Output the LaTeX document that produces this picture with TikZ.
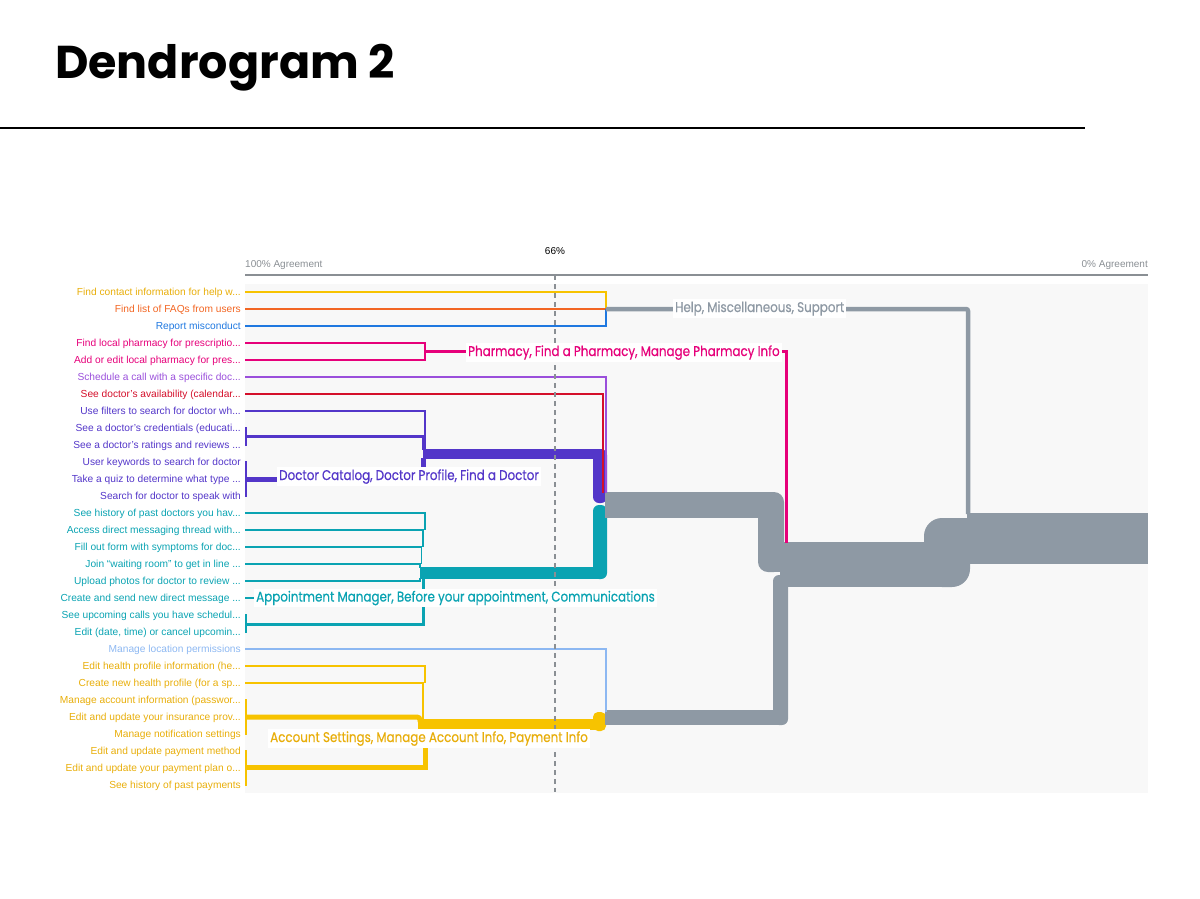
\documentclass[tikz,border=0pt]{standalone}
\usepackage{fontspec}
\setmainfont{Liberation Sans}
\newfontfamily\clusterfont[FakeStretch=0.85,FakeBold=0.5]{Poppins}
\newfontfamily\titlefont[FakeStretch=1.0]{Poppins}
\definecolor{bgc}{HTML}{F8F8F8}
\definecolor{axc}{HTML}{8A8F94}
\definecolor{gr}{HTML}{8E99A4}
\definecolor{yel}{HTML}{F7C300}
\definecolor{yeltx}{HTML}{E8AE0A}
\definecolor{ora}{HTML}{F26522}
\definecolor{blu}{HTML}{1F78E0}
\definecolor{pnk}{HTML}{E6007A}
\definecolor{pur}{HTML}{9A4FDB}
\definecolor{red}{HTML}{D40F2A}
\definecolor{ind}{HTML}{5336C9}
\definecolor{tea}{HTML}{0AA3B2}
\definecolor{lbl}{HTML}{8DB8F2}
\begin{document}
\begin{tikzpicture}[x=1pt,y=-1pt,
  lab/.style={anchor=base east, inner sep=0pt, font=\fontsize{10.2}{12}\selectfont},
  leaf/.style={line width=1.5pt},
  pair/.style={line width=3pt},
  trip/.style={line width=5pt},
  bar/.style={line width=2pt},
  clab/.style={anchor=base west, fill=white, inner xsep=2pt, inner ysep=2pt, font=\clusterfont\fontsize{14}{14}\selectfont}]
\useasboundingbox (0,0) rectangle (1200,898);
% title
\node[anchor=base west, inner sep=0pt, font=\titlefont\bfseries\fontsize{46}{46}\selectfont] (title) at (55,78) {Dendrogram 2};
\coordinate (ruleA) at (0,128);
\coordinate (ruleB) at (1085,128);
\draw[line width=2.5pt] (ruleA) -- (ruleB);
% background and axis
\fill[bgc] (245,284) rectangle (1148,793);
\coordinate (axA) at (245,275);
\coordinate (axB) at (1148,275);
\draw[axc, line width=1.5pt] (axA) -- (axB);
\node[anchor=base west, inner sep=0pt, text=axc, font=\fontsize{10}{12}\selectfont] (ax100) at (245,267) {100\% Agreement};
\node[anchor=base east, inner sep=0pt, text=axc, font=\fontsize{10}{12}\selectfont] (ax0) at (1148,267) {0\% Agreement};
\node[anchor=base, inner sep=0pt, font=\fontsize{10}{12}\selectfont] (p66) at (555,254) {66\%};
% leaf labels
\node[lab, text=yeltx] (l1) at (241,295.6) {Find contact information for help w...};
\node[lab, text=ora] (l2) at (241,312.6) {Find list of FAQs from users};
\node[lab, text=blu] (l3) at (241,329.6) {Report misconduct};
\node[lab, text=pnk] (l4) at (241,346.6) {Find local pharmacy for prescriptio...};
\node[lab, text=pnk] (l5) at (241,363.6) {Add or edit local pharmacy for pres...};
\node[lab, text=pur] (l6) at (241,380.6) {Schedule a call with a specific doc...};
\node[lab, text=red] (l7) at (241,397.6) {See doctor's availability (calendar...};
\node[lab, text=ind] (l8) at (241,414.6) {Use filters to search for doctor wh...};
\node[lab, text=ind] (l9) at (241,431.6) {See a doctor's credentials (educati...};
\node[lab, text=ind] (l10) at (241,448.6) {See a doctor's ratings and reviews ...};
\node[lab, text=ind] (l11) at (241,465.6) {User keywords to search for doctor};
\node[lab, text=ind] (l12) at (241,482.6) {Take a quiz to determine what type ...};
\node[lab, text=ind] (l13) at (241,499.6) {Search for doctor to speak with};
\node[lab, text=tea] (l14) at (241,516.6) {See history of past doctors you hav...};
\node[lab, text=tea] (l15) at (241,533.6) {Access direct messaging thread with...};
\node[lab, text=tea] (l16) at (241,550.6) {Fill out form with symptoms for doc...};
\node[lab, text=tea] (l17) at (241,567.6) {Join “waiting room” to get in line ...};
\node[lab, text=tea] (l18) at (241,584.6) {Upload photos for doctor to review ...};
\node[lab, text=tea] (l19) at (241,601.6) {Create and send new direct message ...};
\node[lab, text=tea] (l20) at (241,618.6) {See upcoming calls you have schedul...};
\node[lab, text=tea] (l21) at (241,635.6) {Edit (date, time) or cancel upcomin...};
\node[lab, text=lbl] (l22) at (241,652.6) {Manage location permissions};
\node[lab, text=yeltx] (l23) at (241,669.6) {Edit health profile information (he...};
\node[lab, text=yeltx] (l24) at (241,686.6) {Create new health profile (for a sp...};
\node[lab, text=yeltx] (l25) at (241,703.6) {Manage account information (passwor...};
\node[lab, text=yeltx] (l26) at (241,720.6) {Edit and update your insurance prov...};
\node[lab, text=yeltx] (l27) at (241,737.6) {Manage notification settings};
\node[lab, text=yeltx] (l28) at (241,754.6) {Edit and update payment method};
\node[lab, text=yeltx] (l29) at (241,771.6) {Edit and update your payment plan o...};
\node[lab, text=yeltx] (l30) at (241,788.6) {See history of past payments};
% thick colored cluster bars
\fill[ind] (423,449) rectangle (600,459);
\fill[ind, rounded corners=6] (593,449) rectangle (607,503);
\fill[tea] (420,567) rectangle (600,579);
\fill[tea, rounded corners=6] (593,505) rectangle (607,579);
\fill[yel] (418,719) rectangle (600,730);
\fill[yel, rounded corners=5] (593,712) rectangle (606,731);
% gray merged bars
\fill[gr] (605,492) rectangle (772,518);
\fill[gr, rounded corners=10] (758,492) rectangle (784,572);
\fill[gr] (770,530) rectangle (784,572);
\fill[gr] (780,542) rectangle (950,587);
\fill[gr, rounded corners=18] (924,518) rectangle (970,587);
\fill[gr] (945,518) rectangle (970,560);
\fill[gr] (967,513) rectangle (1148,564);
\fill[gr, rounded corners=6] (773,575) rectangle (788,725);
\fill[gr] (605,710) rectangle (780,725);
% help group
\coordinate (j1) at (606,309);
\draw[leaf, yel] (245,292) -- (606,292) -- (j1);
\draw[leaf, ora] (245,309) -- (j1);
\draw[leaf, blu] (245,326) -- (606,326) -- (j1);
\draw[gr, line width=4.5pt, rounded corners=2] (j1) -- (968,309) -- (968,514);
% pharmacy
\coordinate (j2) at (425,351);
\draw[leaf, pnk] (245,343) -- (425,343) -- (j2);
\draw[leaf, pnk] (245,360) -- (425,360) -- (j2);
\draw[pnk, line width=3pt] (j2) -- (786,351) -- (786,543);
% doctor
\draw[leaf, ind] (245,411) -- (425,411) -- (425,450);
\draw[bar, ind] (246,427) -- (246,446);
\draw[pair, ind] (246,436.5) -- (423,436.5) -- (423,450);
\draw[bar, ind] (246,461) -- (246,497);
\draw[trip, ind] (246,479) -- (423,479) -- (423,458);
\draw[leaf, pur] (245,377) -- (606,377) -- (606,493);
\draw[leaf, red] (245,394) -- (603,394) -- (603,493);
% appointment
\draw[leaf, tea] (245,513) -- (425,513) -- (425,530);
\draw[leaf, tea] (245,530) -- (423,530) -- (423,547);
\draw[leaf, tea] (245,547) -- (421.5,547) -- (421.5,564);
\draw[leaf, tea] (245,564) -- (420,564) -- (420,568);
\draw[leaf, tea] (245,581) -- (420,581) -- (420,578);
\draw[leaf, tea] (245,598) -- (423,598) -- (423,578);
\draw[bar, tea] (246,614) -- (246,633);
\draw[pair, tea] (246,624) -- (423,624) -- (423,578);
% account
\draw[leaf, lbl] (245,649) -- (606,649) -- (606,712);
\draw[leaf, yel] (245,666) -- (425,666) -- (425,683);
\draw[leaf, yel] (245,683) -- (423,683) -- (423,720);
\draw[bar, yel] (246,699) -- (246,735);
\draw[trip, yel, rounded corners=3] (246,717) -- (420,717) -- (420,722);
\draw[bar, yel] (246,750) -- (246,786);
\draw[trip, yel] (246,767.5) -- (425,767.5) -- (425,729);
% 66% line
\coordinate (dA) at (555,275);
\coordinate (dB) at (555,792);
\draw[axc, line width=1.5pt, dash pattern=on 5pt off 4pt] (dA) -- (dB);
% cluster labels
\node[clab, text=gr] (cHelp) at (673,312) {Help, Miscellaneous, Support};
\node[clab, text=pnk] (cPharm) at (466,356) {Pharmacy, Find a Pharmacy, Manage Pharmacy Info};
\node[clab, text=ind] (cDoc) at (277,480) {Doctor Catalog, Doctor Profile, Find a Doctor};
\node[clab, text=tea] (cApp) at (254,601.5) {Appointment Manager, Before your appointment, Communications};
\node[clab, text=yeltx] (cAcc) at (268,742) {Account Settings, Manage Account Info, Payment Info};
\end{tikzpicture}
\end{document}
